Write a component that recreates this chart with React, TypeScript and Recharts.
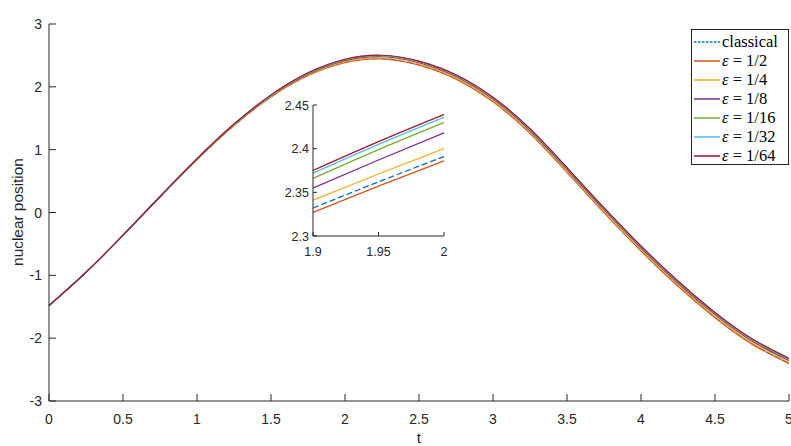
import { LineChart, Line, XAxis, YAxis, Legend, CartesianGrid } from 'recharts';

// time grid and series
const tValues = [0, 0.25, 0.5, 0.75, 1, 1.25, 1.5, 1.75, 2, 2.25, 2.5, 2.75, 3, 3.25, 3.5, 3.75, 4, 4.25, 4.5, 4.75, 5];
const classical = [-1.481, -0.952, -0.364, 0.246, 0.842, 1.385, 1.842, 2.184, 2.391, 2.449, 2.352, 2.13, 1.768, 1.267, 0.646, 0.005, -0.606, -1.166, -1.667, -2.087, -2.397];
const eps2 = [-1.481, -0.952, -0.365, 0.245, 0.84, 1.383, 1.839, 2.18, 2.386, 2.443, 2.345, 2.123, 1.761, 1.26, 0.638, -0.003, -0.613, -1.174, -1.675, -2.095, -2.405];
const eps4 = [-1.481, -0.952, -0.363, 0.248, 0.845, 1.389, 1.848, 2.191, 2.4, 2.459, 2.363, 2.142, 1.781, 1.28, 0.659, 0.019, -0.592, -1.152, -1.652, -2.072, -2.382];
const eps8 = [-1.481, -0.951, -0.361, 0.251, 0.851, 1.398, 1.859, 2.205, 2.418, 2.479, 2.384, 2.164, 1.805, 1.305, 0.685, 0.045, -0.565, -1.125, -1.625, -2.045, -2.355];
const eps16 = [-1.481, -0.951, -0.36, 0.254, 0.855, 1.403, 1.866, 2.215, 2.43, 2.493, 2.399, 2.18, 1.821, 1.322, 0.703, 0.064, -0.546, -1.106, -1.605, -2.025, -2.335];
const eps32 = [-1.481, -0.951, -0.36, 0.255, 0.857, 1.406, 1.87, 2.22, 2.436, 2.499, 2.407, 2.188, 1.83, 1.331, 0.712, 0.073, -0.537, -1.096, -1.595, -2.015, -2.325];
const eps64 = [-1.481, -0.951, -0.359, 0.255, 0.858, 1.408, 1.872, 2.223, 2.439, 2.503, 2.41, 2.192, 1.834, 1.335, 0.716, 0.077, -0.532, -1.091, -1.591, -2.01, -2.32];

// zoomed window
const insetT = [1.9, 1.95, 2];
const insetClassical = [2.332, 2.362, 2.391];
const insetEps2 = [2.327, 2.357, 2.386];
const insetEps4 = [2.341, 2.371, 2.4];
const insetEps8 = [2.355, 2.387, 2.418];
const insetEps16 = [2.366, 2.399, 2.43];
const insetEps32 = [2.372, 2.405, 2.436];
const insetEps64 = [2.375, 2.408, 2.439];

const xTicks = [0, 0.5, 1, 1.5, 2, 2.5, 3, 3.5, 4, 4.5, 5];
const yTicks = [-3, -2, -1, 0, 1, 2, 3];
const insetXTicks = [1.9, 1.95, 2];
const insetYTicks = [2.3, 2.35, 2.4, 2.45];

const seriesLabels = ['classical', '1/2', '1/4', '1/8', '1/16', '1/32', '1/64'];
const seriesKeys = ['classical', 'e2', 'e4', 'e8', 'e16', 'e32', 'e64'];
const seriesColors = ['#0072BD', '#D95319', '#EDB120', '#7E2F8E', '#77AC30', '#4DBEEE', '#A2142F'];

const mainSeries = [classical, eps2, eps4, eps8, eps16, eps32, eps64];
const insetSeries = [insetClassical, insetEps2, insetEps4, insetEps8, insetEps16, insetEps32, insetEps64];

const mainData = tValues.map((t, i) => {
  const row: any = { t };
  seriesKeys.forEach((k, s) => (row[k] = mainSeries[s][i]));
  return row;
});
const insetData = insetT.map((t, i) => {
  const row: any = { t };
  seriesKeys.forEach((k, s) => (row[k] = insetSeries[s][i]));
  return row;
});

const AX = '#262626';
const SANS = '"Liberation Sans", Arial, Helvetica, sans-serif';
const SERIF = '"Liberation Serif", "Times New Roman", serif';

const bottomTick = (len: number, fs: number, off: number) => (p: any) => (
  <g>
    <line x1={p.x} x2={p.x} y1={p.y} y2={p.y - len} stroke={AX} />
    <text x={p.x} y={p.y + off} textAnchor="middle" fontSize={fs} fontFamily={SANS} fill={AX}>
      {String(p.payload.value)}
    </text>
  </g>
);
const topTick = (len: number) => (p: any) => (
  <line x1={p.x} x2={p.x} y1={p.y} y2={p.y + len} stroke={AX} />
);
const leftTick = (len: number, fs: number, gap: number) => (p: any) => (
  <g>
    <line x1={p.x} x2={p.x + len} y1={p.y} y2={p.y} stroke={AX} />
    <text x={p.x - gap} y={p.y + fs * 0.36} textAnchor="end" fontSize={fs} fontFamily={SANS} fill={AX}>
      {String(p.payload.value)}
    </text>
  </g>
);
const rightTick = (len: number) => (p: any) => (
  <line x1={p.x} x2={p.x - len} y1={p.y} y2={p.y} stroke={AX} />
);

const LegendBox = () => (
  <div
    style={{
      boxSizing: 'border-box',
      width: 98,
      height: 136,
      border: `1px solid ${AX}`,
      background: '#fff',
      paddingTop: 2,
    }}
  >
    {seriesLabels.map((lab, i) => (
      <div key={lab} style={{ height: 19, display: 'flex', alignItems: 'center' }}>
        <svg width={30} height={19} style={{ display: 'block', flex: 'none' }}>
          <line
            x1={2}
            x2={28}
            y1={10}
            y2={10}
            stroke={seriesColors[i]}
            strokeWidth={1.5}
            strokeDasharray={i === 0 ? '2.5 1.5' : undefined}
          />
        </svg>
        <span style={{ fontFamily: SERIF, fontSize: 16.5, color: '#000', whiteSpace: 'nowrap', lineHeight: '19px' }}>
          {i === 0 ? (
            'classical'
          ) : (
            <>
              <i>ε</i> = {lab}
            </>
          )}
        </span>
      </div>
    ))}
  </div>
);

export default function App() {
  return (
    <div style={{ position: 'absolute', left: 0, top: 0, width: 791, height: 446, background: '#fff' }}>
      <LineChart width={791} height={446} data={mainData} margin={{ top: 24, right: 2, bottom: 0, left: 0 }}>
        <XAxis
          dataKey="t"
          type="number"
          domain={[0, 5]}
          ticks={xTicks}
          interval={0}
          height={45}
          tickSize={0}
          tickMargin={0}
          tickLine={false}
          axisLine={{ stroke: AX }}
          tick={bottomTick(7, 14, 23)}
          label={{
            content: () => (
              <text x={419} y={443} textAnchor="middle" fontSize={15.4} fontFamily={SANS} fill={AX}>
                t
              </text>
            ),
          }}
        />
        <XAxis
          xAxisId="top"
          dataKey="t"
          type="number"
          orientation="top"
          domain={[0, 5]}
          ticks={xTicks}
          interval={0}
          height={0}
          tickSize={0}
          tickMargin={0}
          tickLine={false}
          axisLine={{ stroke: AX }}
          tick={topTick(7)}
          label={{
            content: () => (
              <text x={419} y={16} textAnchor="middle" fontSize={15.4} fontFamily={SANS} fill="#000">
                quantum nuclear position and classical nuclear position
              </text>
            ),
          }}
        />
        <YAxis
          type="number"
          domain={[-3, 3]}
          ticks={yTicks}
          interval={0}
          width={49}
          tickSize={0}
          tickMargin={0}
          tickLine={false}
          axisLine={{ stroke: AX }}
          tick={leftTick(7, 14, 7)}
          label={{
            content: () => (
              <text
                x={23}
                y={212}
                transform="rotate(-90 23 212)"
                textAnchor="middle"
                fontSize={15.4}
                fontFamily={SANS}
                fill={AX}
              >
                nuclear position
              </text>
            ),
          }}
        />
        <YAxis
          yAxisId="right"
          orientation="right"
          type="number"
          domain={[-3, 3]}
          ticks={yTicks}
          interval={0}
          width={0}
          tickSize={0}
          tickMargin={0}
          tickLine={false}
          axisLine={{ stroke: AX }}
          tick={rightTick(7)}
        />
        {seriesKeys.map((k, i) => (
          <Line
            key={k}
            dataKey={k}
            type="natural"
            stroke={seriesColors[i]}
            strokeWidth={1.2}
            strokeDasharray={i === 0 ? '6 3' : undefined}
            dot={false}
            activeDot={false}
            isAnimationActive={false}
          />
        ))}
        <Legend
          layout="vertical"
          align="center"
          verticalAlign="middle"
          wrapperStyle={{ left: 691, top: 29, width: 98, height: 136 }}
          content={() => <LegendBox />}
        />
      </LineChart>

      <div style={{ position: 'absolute', left: 263, top: 95 }}>
        <LineChart width={190} height={165} data={insetData} margin={{ top: 10, right: 9, bottom: 0, left: 0 }}>
          <CartesianGrid fill="#fff" horizontal={false} vertical={false} />
          <XAxis
            dataKey="t"
            type="number"
            domain={[1.9, 2]}
            ticks={insetXTicks}
            interval={0}
            height={24}
            tickSize={0}
            tickMargin={0}
            tickLine={false}
            axisLine={{ stroke: AX }}
            tick={bottomTick(4, 12.5, 20)}
          />
          <XAxis
            xAxisId="top"
            dataKey="t"
            type="number"
            orientation="top"
            domain={[1.9, 2]}
            ticks={insetXTicks}
            interval={0}
            height={0}
            tickSize={0}
            tickMargin={0}
            tickLine={false}
            axisLine={{ stroke: AX }}
            tick={topTick(4)}
          />
          <YAxis
            type="number"
            domain={[2.3, 2.45]}
            ticks={insetYTicks}
            interval={0}
            width={50}
            tickSize={0}
            tickMargin={0}
            tickLine={false}
            axisLine={{ stroke: AX }}
            tick={leftTick(4, 12.5, 4)}
          />
          <YAxis
            yAxisId="right"
            orientation="right"
            type="number"
            domain={[2.3, 2.45]}
            ticks={insetYTicks}
            interval={0}
            width={0}
            tickSize={0}
            tickMargin={0}
            tickLine={false}
            axisLine={{ stroke: AX }}
            tick={rightTick(4)}
          />
          {seriesKeys.map((k, i) => (
            <Line
              key={k}
              dataKey={k}
              type="natural"
              stroke={seriesColors[i]}
              strokeWidth={1.3}
              strokeDasharray={i === 0 ? '6 3' : undefined}
              dot={false}
              activeDot={false}
              isAnimationActive={false}
            />
          ))}
        </LineChart>
      </div>
    </div>
  );
}
